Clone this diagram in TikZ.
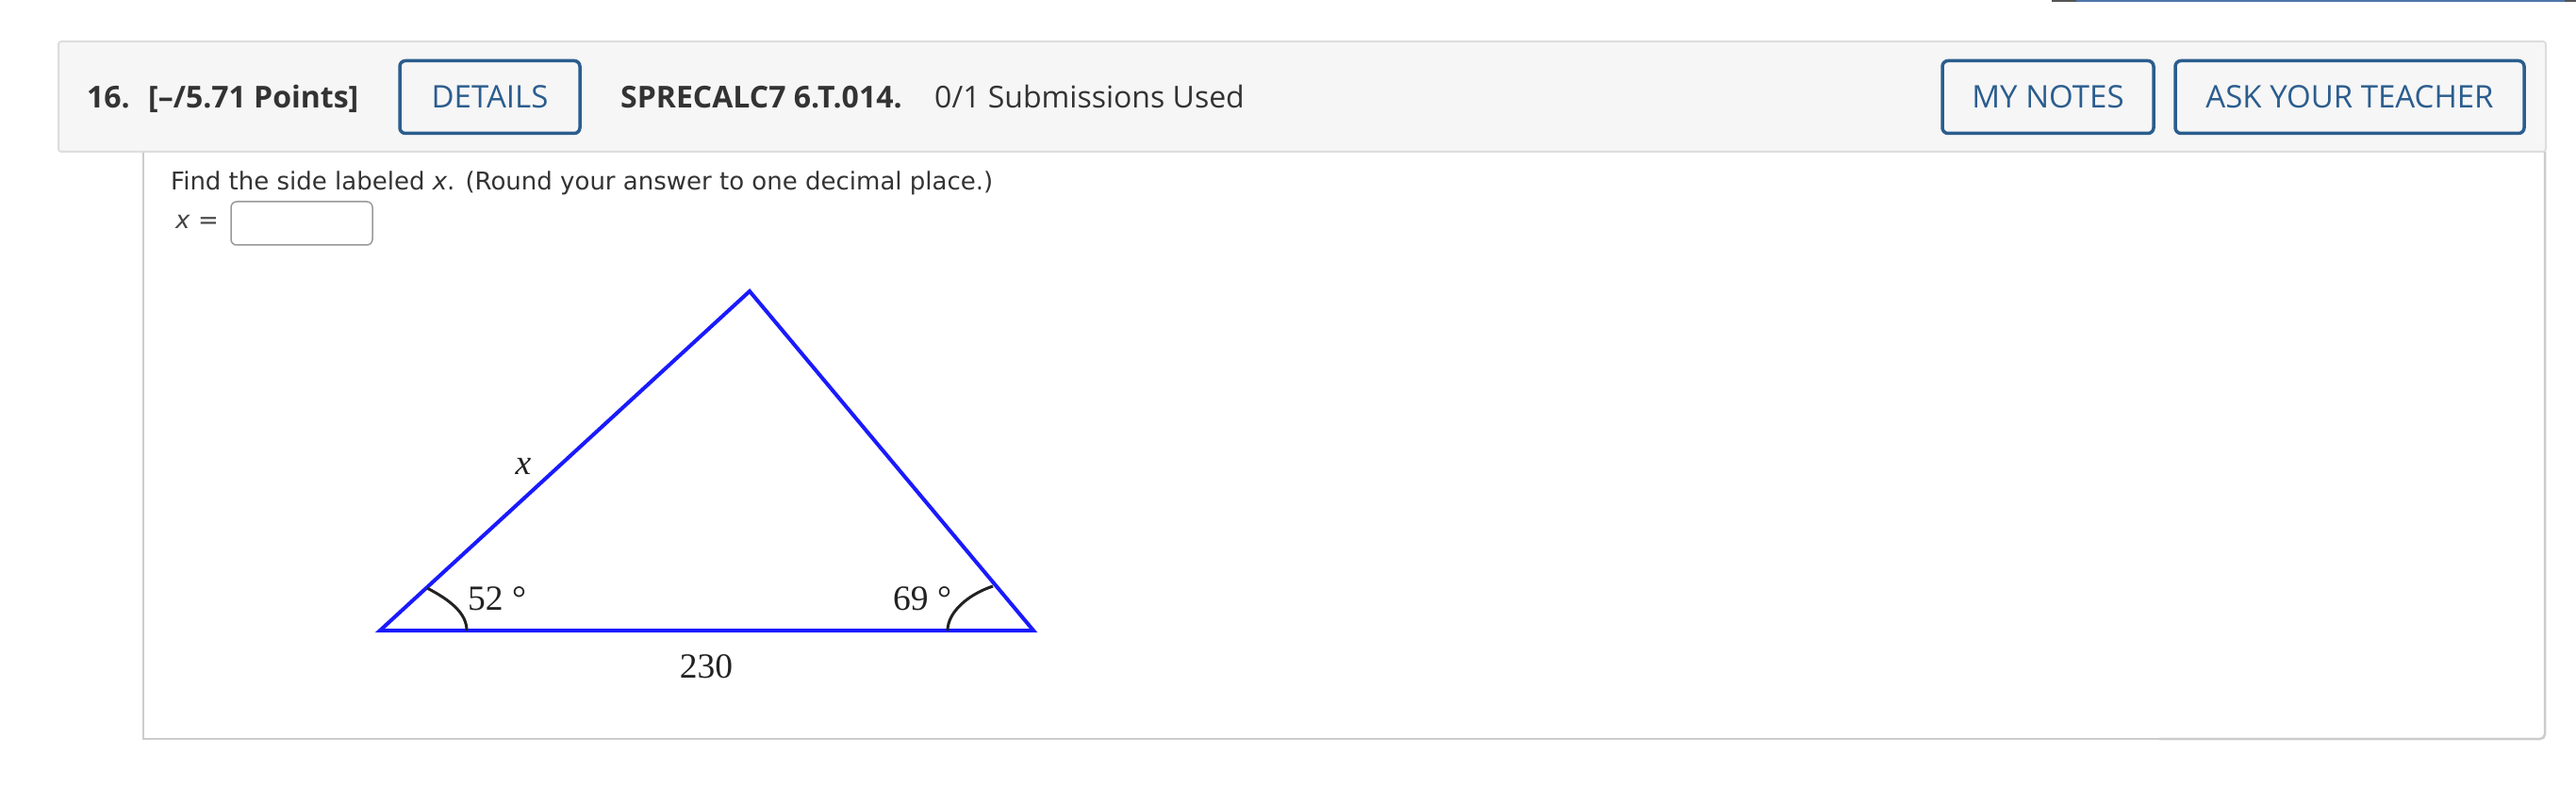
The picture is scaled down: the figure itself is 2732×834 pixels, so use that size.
\documentclass[tikz,border=0pt]{standalone}
\usepackage{fontspec}
\setmainfont{DejaVu Sans}
\newfontfamily\hdrfont{Open Sans}
\newfontfamily\bodyfont{DejaVu Sans}
\newfontfamily\trifont{Liberation Serif}
\definecolor{hdrfill}{HTML}{F6F6F6}
\definecolor{hdrline}{HTML}{DDDDDD}
\definecolor{panelline}{HTML}{CCCCCC}
\definecolor{btnblue}{HTML}{2B5D8E}
\definecolor{txtdark}{HTML}{333333}
\definecolor{txtmid}{HTML}{444444}
\definecolor{boxgray}{HTML}{999999}
\definecolor{triblue}{HTML}{1A1AFF}
\definecolor{arcdark}{HTML}{222222}
\definecolor{topblue}{HTML}{4E75A9}
\definecolor{topdark}{HTML}{555555}
\begin{document}
\begin{tikzpicture}[x=1pt,y=-1pt,
  hdrtext/.style={inner sep=0pt, anchor=base west, text=txtdark, font=\hdrfont\fontsize{32}{38}\selectfont},
  hdrbold/.style={hdrtext, font=\hdrfont\bfseries\fontsize{32}{38}\selectfont},
  btn/.style={draw=btnblue, line width=3.5pt, rounded corners=6pt, fill=hdrfill, inner sep=0pt,
    text=btnblue, font=\hdrfont\fontsize{33}{38}\selectfont, minimum height=77pt},
  bodytext/.style={inner sep=0pt, anchor=base west, text=txtdark, font=\bodyfont\fontsize{26}{30}\selectfont},
  tri/.style={draw=triblue, line width=4pt, line join=miter},
  arcline/.style={draw=arcdark, line width=3pt},
  trilabel/.style={inner sep=0pt, text=arcdark, font=\trifont\fontsize{37.5}{42}\selectfont}
]
\useasboundingbox (0,0) rectangle (2732,834);
\fill[white] (0,0) rectangle (2732,834);
% top bar
\fill[topdark] (2176,0) rectangle (2202,2);
\fill[topblue] (2202,0) rectangle (2720,2);
\fill[topdark] (2720,0) rectangle (2732,2);
% body panel
\draw[panelline, line width=2.5pt] (152,161) -- (152,784) -- (2300,784);
\draw[panelline, line width=2.5pt, rounded corners=5pt] (2290,784) -- (2699,784) -- (2699,161);
% header panel
\draw[fill=hdrfill, draw=hdrline, line width=2pt, rounded corners=3pt] (62,44) rectangle (2700,161);
% header texts
\node[hdrbold] (qnum) at (92,114.5) {16.};
\node[hdrbold] (points) at (157,114.5) {[–/5.71 Points]};
\node[btn, minimum width=191pt] (details) at (519.5,103) {DETAILS};
\node[hdrbold] (code) at (658,114.5) {SPRECALC7 6.T.014.};
\node[hdrtext] (subs) at (991,114.5) {0/1 Submissions Used};
\node[btn, minimum width=224pt] (notes) at (2172,103) {MY NOTES};
\node[btn, minimum width=370pt] (ask) at (2492,103) {ASK YOUR TEACHER};
% question
\node[bodytext] (question) at (181,202) {Find the side labeled \textit{x}. (Round your answer to one decimal place.)};
\node[bodytext, text=txtmid] (xeq) at (186,243) {\textit{x} =};
\node[draw=boxgray, line width=1.5pt, rounded corners=6pt, fill=white, minimum width=150pt, minimum height=46pt, inner sep=0pt] (answerbox) at (320,237) {};
% triangle
\coordinate (A) at (403,669);
\coordinate (B) at (795,309);
\coordinate (C) at (1096,669);
\draw[tri] (A) -- (B) -- (C) -- cycle;
\coordinate (a1) at (453,624);
\coordinate (a2) at (495,669);
\coordinate (c1) at (1053,622);
\coordinate (c2) at (1005,669);
\draw[arcline] (a1) .. controls (480,638) and (495,652) .. (a2);
\draw[arcline] (c1) .. controls (1026,631) and (1005,650) .. (c2);
\node[trilabel, anchor=base west] (angA) at (496,647) {52 °};
\node[trilabel, anchor=base west] (angC) at (947,647) {69 °};
\node[trilabel, anchor=base] (xlab) at (555,503) {\textit{x}};
\node[trilabel, anchor=base] (base) at (749,719) {230};
\end{tikzpicture}
\end{document}
